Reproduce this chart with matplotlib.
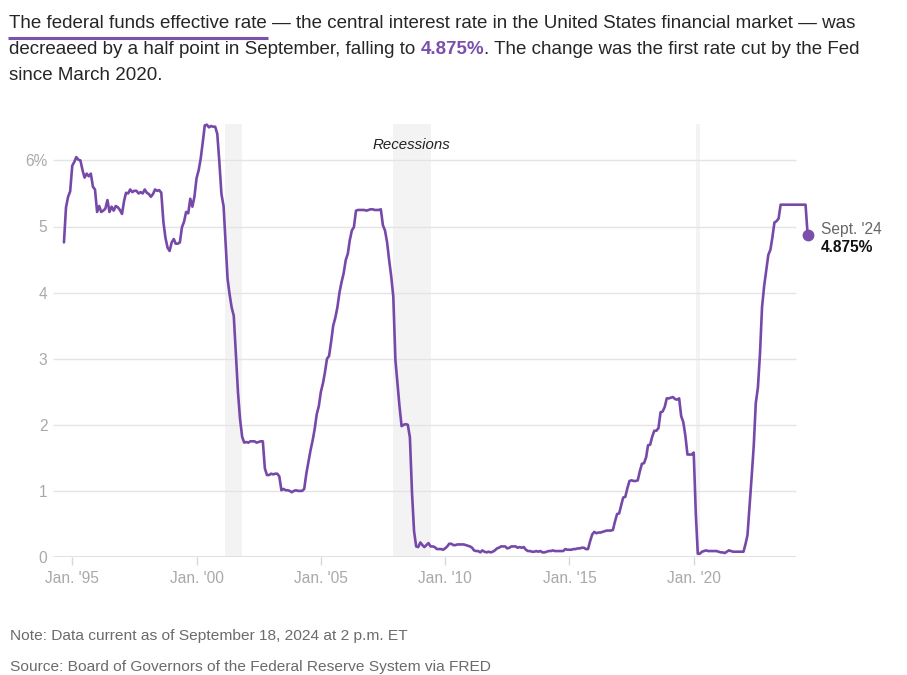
import pandas as pd
import matplotlib
matplotlib.use("Agg")
import matplotlib.pyplot as plt
from matplotlib.lines import Line2D

W, H, DPI = 907, 675, 100

# Effective federal funds rate (%), one value per month starting Sep 1994
rate_start = "1994-09-01"
rates = [
    4.76, 5.29, 5.45, 5.53,
    5.92, 5.98, 6.05, 6.01, 6.00, 5.85, 5.74, 5.80, 5.76, 5.80, 5.60, 5.56,
    5.22, 5.31, 5.22, 5.24, 5.27, 5.40, 5.22, 5.30, 5.24, 5.31, 5.29, 5.25,
    5.19, 5.39, 5.51, 5.50, 5.56, 5.52, 5.54, 5.54, 5.50, 5.52, 5.50, 5.56,
    5.51, 5.49, 5.45, 5.49, 5.56, 5.54, 5.55, 5.51, 5.07, 4.83, 4.68, 4.63,
    4.76, 4.81, 4.74, 4.74, 4.76, 4.99, 5.07, 5.22, 5.20, 5.42, 5.30, 5.45,
    5.73, 5.85, 6.02, 6.27, 6.53, 6.54, 6.50, 6.52, 6.51, 6.51, 6.40, 5.98,
    5.49, 5.31, 4.80, 4.21, 3.97, 3.77, 3.65, 3.07, 2.49, 2.09, 1.82, 1.73,
    1.74, 1.73, 1.75, 1.75, 1.75, 1.73, 1.74, 1.75, 1.75, 1.34, 1.24, 1.24,
    1.26, 1.25, 1.26, 1.26, 1.22, 1.01, 1.03, 1.01, 1.01, 1.00, 0.98, 1.00,
    1.01, 1.00, 1.00, 1.00, 1.03, 1.26, 1.43, 1.61, 1.76, 1.93, 2.16, 2.28,
    2.50, 2.63, 2.79, 3.00, 3.04, 3.26, 3.50, 3.62, 3.78, 4.00, 4.16, 4.29,
    4.49, 4.59, 4.79, 4.94, 4.99, 5.24, 5.25, 5.25, 5.25, 5.25, 5.24, 5.25,
    5.26, 5.26, 5.25, 5.25, 5.25, 5.26, 5.02, 4.94, 4.76, 4.49, 4.24, 3.94,
    2.98, 2.61, 2.28, 1.98, 2.00, 2.01, 2.00, 1.81, 0.97, 0.39, 0.16, 0.15,
    0.22, 0.18, 0.15, 0.18, 0.21, 0.16, 0.16, 0.15, 0.12, 0.12, 0.12, 0.11,
    0.13, 0.16, 0.20, 0.20, 0.18, 0.18, 0.19, 0.19, 0.19, 0.19, 0.18, 0.17,
    0.16, 0.14, 0.10, 0.09, 0.09, 0.07, 0.10, 0.08, 0.07, 0.08, 0.07, 0.08,
    0.10, 0.13, 0.14, 0.16, 0.16, 0.16, 0.13, 0.14, 0.16, 0.16, 0.16, 0.14,
    0.15, 0.14, 0.15, 0.11, 0.09, 0.09, 0.08, 0.08, 0.09, 0.08, 0.09, 0.07,
    0.07, 0.08, 0.09, 0.09, 0.10, 0.09, 0.09, 0.09, 0.09, 0.09, 0.12, 0.11,
    0.11, 0.11, 0.12, 0.12, 0.13, 0.13, 0.14, 0.14, 0.12, 0.12, 0.24, 0.34,
    0.38, 0.36, 0.37, 0.37, 0.38, 0.39, 0.40, 0.40, 0.40, 0.41, 0.54, 0.65,
    0.66, 0.79, 0.90, 0.91, 1.04, 1.15, 1.16, 1.15, 1.15, 1.16, 1.30, 1.41,
    1.42, 1.51, 1.69, 1.70, 1.82, 1.91, 1.91, 1.95, 2.19, 2.20, 2.27, 2.40,
    2.40, 2.41, 2.42, 2.39, 2.38, 2.40, 2.13, 2.04, 1.83, 1.55, 1.55, 1.55,
    1.58, 0.65, 0.05, 0.05, 0.08, 0.09, 0.10, 0.09, 0.09, 0.09, 0.09, 0.09,
    0.08, 0.07, 0.07, 0.06, 0.08, 0.10, 0.09, 0.08, 0.08, 0.08, 0.08, 0.08,
    0.08, 0.20, 0.33, 0.77, 1.21, 1.68, 2.33, 2.56, 3.08, 3.78, 4.10, 4.33,
    4.57, 4.65, 4.83, 5.06, 5.08, 5.12, 5.33, 5.33, 5.33, 5.33, 5.33, 5.33,
    5.33, 5.33, 5.33, 5.33, 5.33, 5.33, 5.33, 4.875,
]

recession_starts = ["2001-03-01", "2007-12-01", "2020-02-01"]
recession_ends = ["2001-11-01", "2009-06-01", "2020-04-01"]

tick_years = [1995, 2000, 2005, 2010, 2015, 2020]
tick_labels = ["Jan. '95", "Jan. '00", "Jan. '05", "Jan. '10", "Jan. '15", "Jan. '20"]
y_ticks = [0, 1, 2, 3, 4, 5, 6]
y_labels = ["0", "1", "2", "3", "4", "5", "6%"]

last_label = "Sept. '24"
last_value_label = "4.875%"

para_line1 = "The federal funds effective rate \u2014 the central interest rate in the United States financial market \u2014 was"
para_under = "The federal funds effective rate"
para_line2a = "decreaeed by a half point in September, falling to"
para_line2b = "4.875%"
para_line2c = ". The change was the first rate cut by the Fed"
para_line3 = "since March 2020."
note_text = "Note: Data current as of September 18, 2024 at 2 p.m. ET"
source_text = "Source: Board of Governors of the Federal Reserve System via FRED"

PURPLE = "#7649a9"
TEXT = "#262626"
FONT = "Liberation Sans"
plt.rcParams["font.family"] = [FONT, "DejaVu Sans"]

fig = plt.figure(figsize=(W / DPI, H / DPI), dpi=DPI)
fig.patch.set_facecolor("white")
renderer = fig.canvas.get_renderer()


def fx(x):
    return x / W


def fy(y):
    return 1 - y / H


def text_width(s, size, **kw):
    t = fig.text(0, 0, s, fontsize=size, **kw)
    w = t.get_window_extent(renderer).width
    t.remove()
    return w


def fit_size(s, width_px, **kw):
    return 10 * width_px / text_width(s, 10, **kw)


# ---------------- chart ----------------
x_left, x_right = 53, 812
y_bottom, y_top = 557, 124
ax = fig.add_axes([fx(x_left), fy(y_bottom), (x_right - x_left) / W, (y_bottom - y_top) / H])
ax.set_facecolor("none")

dates = pd.date_range(rate_start, periods=len(rates), freq="MS")
xmin, xmax = pd.Timestamp("1994-03-24"), pd.Timestamp("2024-10-04")
ax.set_xlim(xmin, xmax)
ax.set_ylim(0, (y_bottom - y_top) / 66.1)

for s, e in zip(recession_starts, recession_ends):
    ax.axvspan(pd.Timestamp(s), pd.Timestamp(e), color="#f3f3f3", lw=0, zorder=0)

grid_end = pd.Timestamp("2024-02-12")
ax.hlines(y_ticks[1:], xmin, grid_end, colors="#e4e4e4", lw=1.0, zorder=1)
ax.hlines([0], xmin, grid_end, colors="#dcdcdc", lw=1.2, zorder=1)

ax.plot(dates, rates, color=PURPLE, lw=1.9, solid_joinstyle="round",
        solid_capstyle="round", zorder=3, clip_on=False)
ax.plot(dates[-1:], rates[-1:], "o", ms=7.5, color="#7b4fab", zorder=4, clip_on=False)

for sp in ax.spines.values():
    sp.set_visible(False)

ax.set_xticks([pd.Timestamp(f"{y}-01-01") for y in tick_years])
ax.set_xticklabels(tick_labels)
ax.set_yticks(y_ticks)
ax.set_yticklabels(y_labels)
ax.tick_params(axis="x", length=6, width=1, color="#d8d8d8", labelcolor="#a9a9a9",
               labelsize=11.2, pad=4)
ax.tick_params(axis="y", length=0, labelcolor="#a9a9a9", labelsize=11.2, pad=4)

ax.annotate(last_label, xy=(dates[-1], rates[-1]), xytext=(13.5, 5),
            textcoords="offset pixels", ha="left", va="center",
            fontsize=11.2, color="#666666", annotation_clip=False)
ax.annotate(last_value_label, xy=(dates[-1], rates[-1]), xytext=(13.5, -13),
            textcoords="offset pixels", ha="left", va="center",
            fontsize=11.2, fontweight="bold", color="#111111", annotation_clip=False)

fig.text(fx(411), fy(145), "Recessions", ha="center", va="center",
         fontsize=10.8, style="italic", color="#222222")

# ---------------- paragraph ----------------
left = 9
psize = fit_size(para_line1, 851)
fig.text(fx(left), fy(28), para_line1, fontsize=psize, color=TEXT, va="baseline")
uw = text_width(para_under, psize)
fig.add_artist(Line2D([fx(left - 1), fx(left + uw + 1)], [fy(37.5), fy(37.5)],
                      transform=fig.transFigure, color="#7b52ab", lw=2.2,
                      solid_capstyle="butt"))

space_w = text_width("a a", psize) - text_width("aa", psize)
wa = text_width(para_line2a, psize)
fig.text(fx(left), fy(54), para_line2a, fontsize=psize, color=TEXT, va="baseline")
xb = left + wa + space_w
fig.text(fx(xb), fy(54), para_line2b, fontsize=psize, color="#7b4fab",
         fontweight="bold", va="baseline")
wb = text_width(para_line2b, psize, fontweight="bold")
fig.text(fx(xb + wb), fy(54), para_line2c, fontsize=psize, color=TEXT, va="baseline")
fig.text(fx(left), fy(80), para_line3, fontsize=psize, color=TEXT, va="baseline")

# ---------------- notes ----------------
nsize = fit_size(note_text, 398)
fig.text(fx(9.5), fy(640), note_text, fontsize=nsize, color="#6b6b6b", va="baseline")
fig.text(fx(9.5), fy(670.5), source_text, fontsize=nsize, color="#6b6b6b", va="baseline")

fig.savefig("out.png", dpi=DPI, facecolor="white")
